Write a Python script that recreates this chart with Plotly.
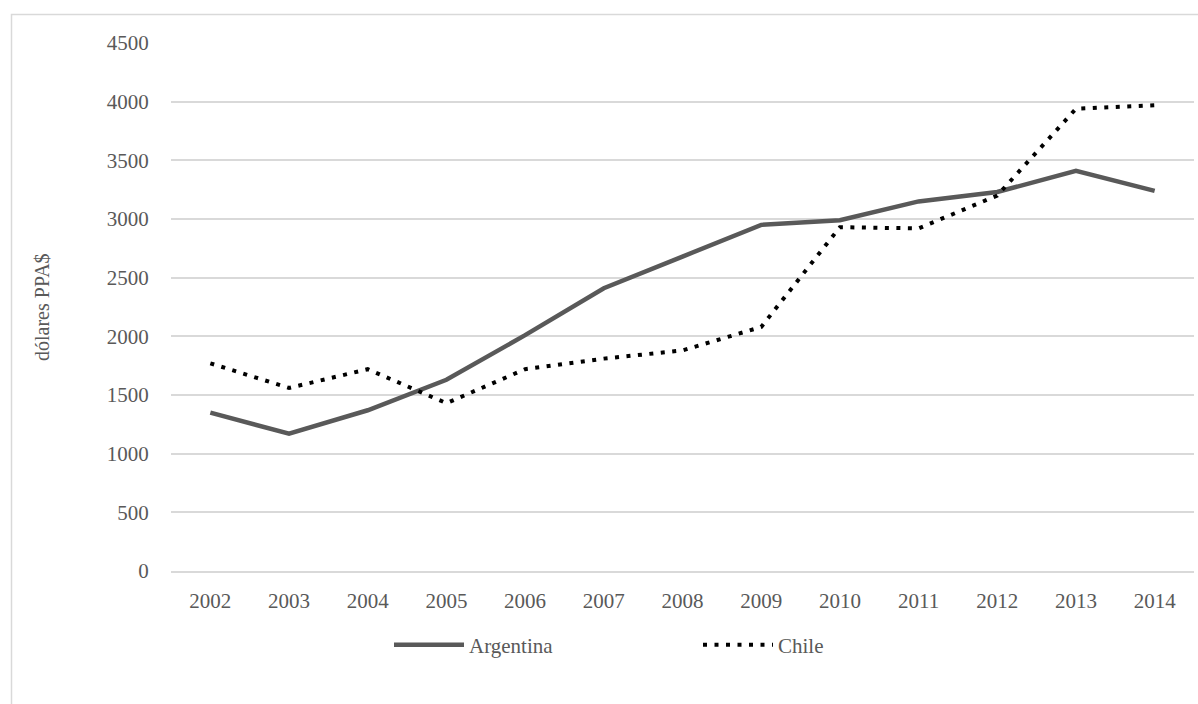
import plotly.graph_objects as go

years = ["2002", "2003", "2004", "2005", "2006", "2007", "2008",
         "2009", "2010", "2011", "2012", "2013", "2014"]
argentina = [1350, 1170, 1370, 1630, 2010, 2410, 2680, 2950, 2990, 3150, 3230, 3410, 3240]
chile = [1770, 1560, 1720, 1430, 1720, 1810, 1880, 2080, 2930, 2920, 3200, 3940, 3970]
y_ticks = [0, 500, 1000, 1500, 2000, 2500, 3000, 3500, 4000, 4500]

FONT = "Liberation Serif, Times New Roman, serif"
TEXT = "#595959"
GRID = "#d9d9d9"
FS = 21

W, H = 1198, 704
L, R, T, B = 171, 4, 43, 133
pw, ph = W - L - R, H - T - B

fig = go.Figure()
fig.add_trace(go.Scatter(
    x=years, y=argentina, name="Argentina", mode="lines",
    line=dict(color="#595959", width=4.5),
))
fig.add_trace(go.Scatter(
    x=years, y=chile, name="Chile", mode="lines",
    line=dict(color="#000000", width=4, dash="4px,7.5px"),
))

fig.update_layout(
    width=W, height=H,
    margin=dict(l=L, r=R, t=T, b=B, autoexpand=False),
    paper_bgcolor="white", plot_bgcolor="white",
    font=dict(family=FONT, size=FS, color=TEXT),
    showlegend=True,
    legend=dict(
        orientation="h", x=(397 - 8 - L) / pw, xanchor="left",
        y=-(645 - (T + ph)) / ph, yanchor="middle",
        font=dict(family=FONT, size=FS, color=TEXT),
        itemwidth=70, tracegroupgap=0, entrywidthmode="pixels", entrywidth=224,
    ),
    xaxis=dict(
        type="category", range=[-0.5, 12.5], showgrid=False,
        showline=True, linecolor=GRID, linewidth=1.5,
        ticks="outside", ticklen=10, tickcolor="rgba(0,0,0,0)",
        tickfont=dict(family=FONT, size=FS, color=TEXT),
        fixedrange=True,
    ),
    yaxis=dict(
        range=[0, 4500], tickvals=y_ticks, showgrid=True, gridcolor=GRID,
        gridwidth=1.5, zeroline=False, showline=False,
        ticks="outside", ticklen=17, tickcolor="rgba(0,0,0,0)",
        tickfont=dict(family=FONT, size=FS, color=TEXT),
        fixedrange=True,
    ),
    annotations=[dict(
        text="dólares PPA$", textangle=-90, showarrow=False,
        xref="paper", yref="paper",
        x=(42 - L) / pw, y=0.5, xanchor="center", yanchor="middle",
        font=dict(family=FONT, size=20, color=TEXT),
    )],
    shapes=[dict(
        type="rect", xref="paper", yref="paper",
        x0=(11.5 - L) / pw, x1=(1210 - L) / pw,
        y0=-(720 - (T + ph)) / ph, y1=1 + (T - 14.5) / ph,
        line=dict(color=GRID, width=1.5), fillcolor="rgba(0,0,0,0)",
        layer="below",
    )],
)

fig.write_html("out.html")
